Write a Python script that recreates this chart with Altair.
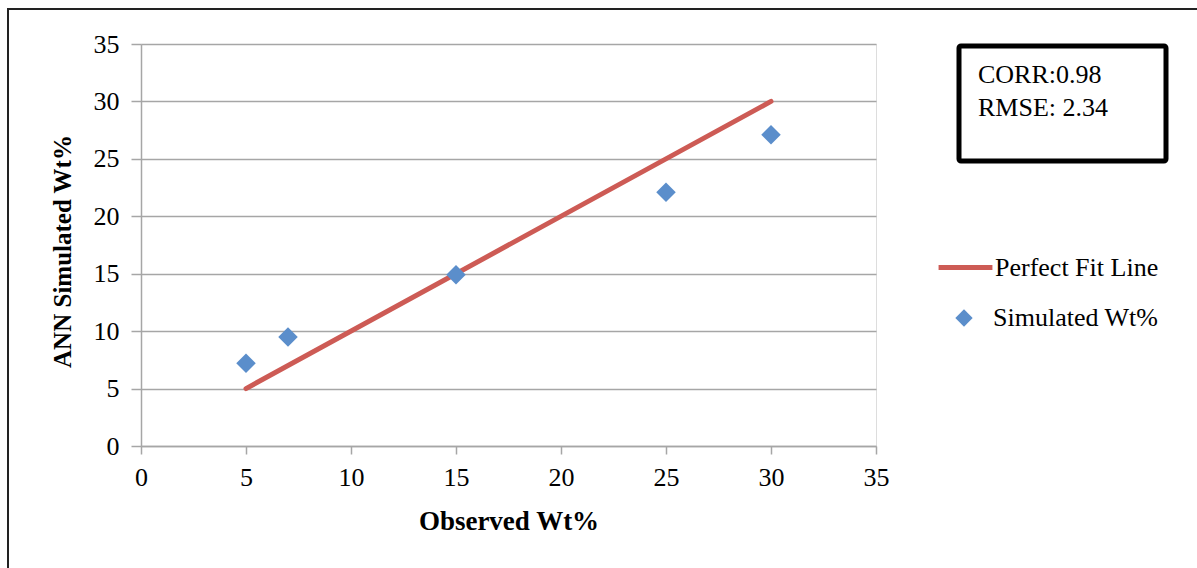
import altair as alt
import pandas as pd

# Observed vs ANN-simulated weight percent
observed = [5, 7, 15, 25, 30]
simulated = [7.2, 9.5, 14.9, 22.1, 27.1]

# Perfect fit reference line endpoints
fit_x = [5, 30]
fit_y = [5, 30]

corr_text = "CORR:0.98"
rmse_text = "RMSE: 2.34"

FONT = "Liberation Serif"
LINE_COLOR = "#CD5B55"
POINT_COLOR = "#5B8ECB"
GRID = "#A6A6A6"

pts = pd.DataFrame({"obs": observed, "sim": simulated, "series": "Simulated Wt%"})
fit = pd.DataFrame({"obs": fit_x, "sim": fit_y, "series": "Perfect Fit Line"})

x_scale = alt.Scale(domain=[0, 35], nice=False)
y_scale = alt.Scale(domain=[0, 35], nice=False)

x_axis = alt.Axis(
    title="Observed Wt%", values=list(range(0, 36, 5)), grid=False,
    labelFont=FONT, labelFontSize=26, labelColor="black", labelPadding=10,
    labelFlush=False,
    titleFont=FONT, titleFontSize=27, titleFontWeight="bold", titleColor="black",
    titlePadding=18, domainColor=GRID, domainWidth=1.5, tickColor=GRID,
    tickWidth=1.5, tickSize=8,
)
y_axis = alt.Axis(
    title="ANN Simulated Wt%", values=list(range(0, 36, 5)), grid=True,
    gridColor=GRID, gridWidth=1.5, labelFlush=False,
    labelFont=FONT, labelFontSize=26, labelColor="black", labelPadding=12,
    titleFont=FONT, titleFontSize=25, titleFontWeight="bold", titleColor="black",
    titlePadding=18, titleY=207, domainColor=GRID, domainWidth=1.5,
    tickColor=GRID, tickWidth=1.5, tickSize=10,
)

line = alt.Chart(fit).mark_line(strokeWidth=5, strokeCap="round").encode(
    x=alt.X("obs:Q", scale=x_scale, axis=x_axis),
    y=alt.Y("sim:Q", scale=y_scale, axis=y_axis),
    stroke=alt.Stroke(
        "series:N",
        scale=alt.Scale(domain=["Perfect Fit Line"], range=[LINE_COLOR]),
        legend=alt.Legend(
            title=None, orient="none", legendX=795, legendY=194,
            symbolType="stroke", symbolSize=2900, symbolStrokeWidth=5,
            labelFont=FONT, labelFontSize=26, labelColor="black",
            labelOffset=0, labelLimit=400,
        ),
    ),
)

points = alt.Chart(pts).mark_point(
    shape="diamond", filled=True, size=380, opacity=1
).encode(
    x=alt.X("obs:Q", scale=x_scale),
    y=alt.Y("sim:Q", scale=y_scale),
    fill=alt.Fill(
        "series:N",
        scale=alt.Scale(domain=["Simulated Wt%"], range=[POINT_COLOR]),
        legend=alt.Legend(
            title=None, orient="none", legendX=810, legendY=261,
            symbolType="diamond", symbolSize=300, symbolStrokeWidth=0,
            labelFont=FONT, labelFontSize=26, labelColor="black",
            labelOffset=16, labelLimit=400,
        ),
    ),
)

one_row = pd.DataFrame({"a": [0]})

# Outer frame around the figure
frame = alt.Chart(one_row).mark_rect(
    fill=None, stroke="#222222", strokeWidth=2
).encode(
    x=alt.value(-133), x2=alt.value(1200), y=alt.value(-35), y2=alt.value(700)
)

# Statistics box
stats_box = alt.Chart(one_row).mark_rect(
    fill="white", stroke="black", strokeWidth=5, cornerRadius=2
).encode(
    x=alt.value(818), x2=alt.value(1025), y=alt.value(2), y2=alt.value(117)
)


def stat_line(text, ypos):
    return alt.Chart(pd.DataFrame({"t": [text]})).mark_text(
        align="left", baseline="middle", font=FONT, fontSize=26, color="black"
    ).encode(x=alt.value(837), y=alt.value(ypos), text="t:N")


chart = alt.layer(
    frame, line, points, stats_box,
    stat_line(corr_text, 31), stat_line(rmse_text, 64),
).properties(
    width=735, height=402,
    autosize=alt.AutoSizeParams(type="none"),
    padding={"left": 141, "top": 44, "right": 321, "bottom": 122},
).configure_view(stroke=None).configure(background="white")

chart.save("out.html", embed_options={"renderer": "svg", "actions": False})
